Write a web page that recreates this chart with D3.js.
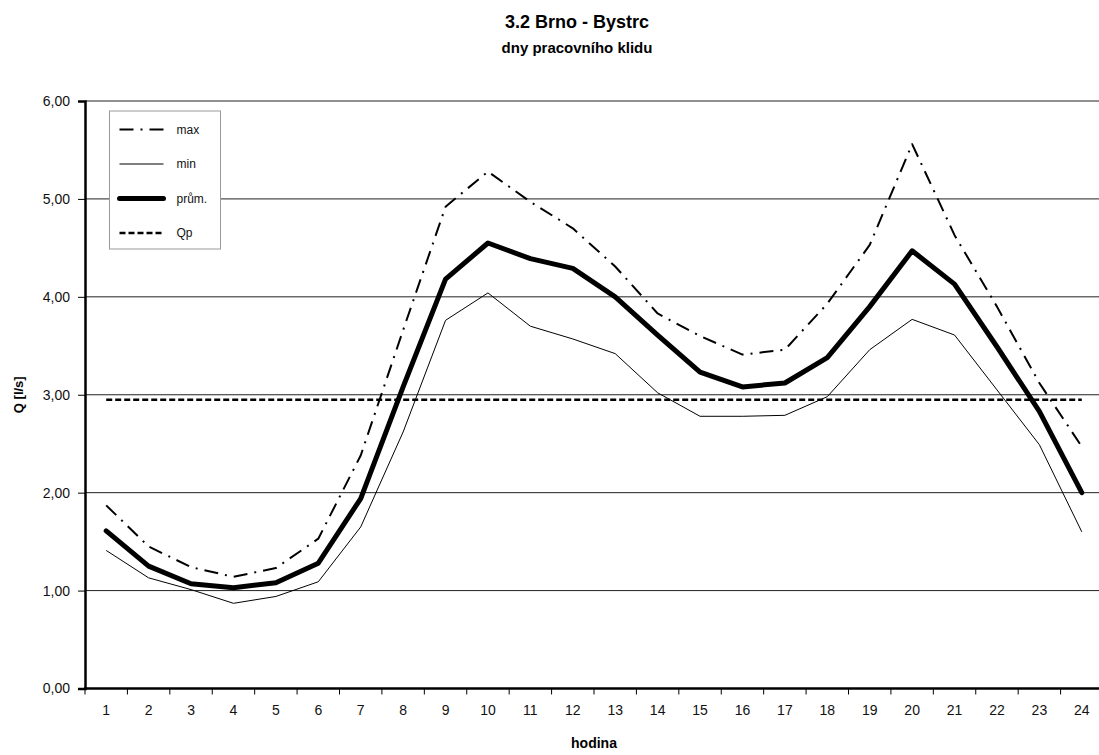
<!DOCTYPE html>
<html>
<head>
<meta charset="utf-8">
<script src="https://cdn.jsdelivr.net/npm/d3@7"></script>
<style>
  body { margin: 0; background: #fff; }
  svg, svg text { font-family: 'Liberation Sans', Arial, sans-serif; }
</style>
</head>
<body>
<div id="chart"></div>
<script>
const hours = d3.range(1, 25)
const maxQ = [1.87, 1.45, 1.24, 1.14, 1.23, 1.53, 2.38, 3.66, 4.92, 5.28, 4.97, 4.70,
  4.31, 3.83, 3.60, 3.41, 3.46, 3.93, 4.53, 5.56, 4.63, 3.90, 3.12, 2.47]
const minQ = [1.41, 1.13, 1.01, 0.87, 0.94, 1.09, 1.65, 2.62, 3.76, 4.04, 3.70, 3.57,
  3.42, 3.02, 2.78, 2.78, 2.79, 2.98, 3.46, 3.77, 3.61, 3.05, 2.49, 1.60]
const avgQ = [1.61, 1.25, 1.07, 1.03, 1.08, 1.28, 1.94, 3.08, 4.18, 4.55, 4.39, 4.29,
  4.00, 3.61, 3.23, 3.08, 3.12, 3.38, 3.90, 4.47, 4.13, 3.49, 2.83, 2.00]
const qp = 2.95
const yTicks = [0, 1, 2, 3, 4, 5, 6]

const W = 1099
const H = 755
const FONT = "'Liberation Sans', Arial, sans-serif"
// plot area runs a bit past the right edge, like the cropped original
const margin = { top: 101, left: 85, right: -4, bottom: 66.5 }

const svg = d3.select('#chart')
  .append('svg')
  .attr('width', W)
  .attr('height', H)
  .attr('font-family', FONT)

const x = d3.scaleBand()
  .domain(hours)
  .range([margin.left, W - margin.right])

const y = d3.scaleLinear()
  .domain([0, 6])
  .range([H - margin.bottom, margin.top])

const czLocale = d3.formatLocale({ decimal: ',', thousands: ' ', grouping: [3], currency: ['', ' Kč'] })
const fmt = czLocale.format('.2f')

// gridlines
svg.append('g')
  .selectAll('line')
  .data(yTicks.filter(d => d > 0))
  .join('line')
  .attr('x1', margin.left)
  .attr('x2', W - margin.right)
  .attr('y1', d => y(d))
  .attr('y2', d => y(d))
  .attr('stroke', '#222')
  .attr('stroke-width', 1)

// y axis
const yAxis = svg.append('g')
  .attr('transform', `translate(${margin.left},0)`)
  .call(d3.axisLeft(y).tickValues(yTicks).tickFormat(fmt).tickSize(7).tickPadding(8))
yAxis.attr('font-family', FONT).attr('font-size', 14)
yAxis.select('.domain').attr('stroke-width', 2.5)
yAxis.selectAll('.tick line').attr('stroke-width', 1)
yAxis.selectAll('text').attr('fill', '#111')

// x axis: labels centered in bands, ticks between categories
const xAxis = svg.append('g')
  .attr('transform', `translate(0,${y(0)})`)
  .call(d3.axisBottom(x).tickSize(0).tickPadding(17))
xAxis.attr('font-family', FONT).attr('font-size', 14)
xAxis.select('.domain').remove()
xAxis.selectAll('text').attr('fill', '#111')

svg.append('g')
  .selectAll('line')
  .data(hours)
  .join('line')
  .attr('x1', d => x(d))
  .attr('x2', d => x(d))
  .attr('y1', y(0))
  .attr('y2', y(0) + 6)
  .attr('stroke', '#000')

svg.append('line')
  .attr('x1', margin.left - 1)
  .attr('x2', W - margin.right)
  .attr('y1', y(0))
  .attr('y2', y(0))
  .attr('stroke', '#000')
  .attr('stroke-width', 2.5)

const cx = d => x(d) + x.bandwidth() / 2

const line = d3.line()
  .x((d, i) => cx(hours[i]))
  .y(d => y(d))

const series = [
  { name: 'max', values: maxQ, width: 2, dash: '14,7,2,7' },
  { name: 'min', values: minQ, width: 1, dash: null },
  { name: 'prům.', values: avgQ, width: 5, dash: null },
  { name: 'Qp', values: hours.map(() => qp), width: 2.5, dash: '6,3' }
]

svg.append('g')
  .selectAll('path')
  .data(series)
  .join('path')
  .attr('d', d => line(d.values))
  .attr('fill', 'none')
  .attr('stroke', '#000')
  .attr('stroke-width', d => d.width)
  .attr('stroke-dasharray', d => d.dash)
  .attr('stroke-linejoin', 'round')
  .attr('stroke-linecap', d => (d.width > 3 ? 'round' : 'butt'))

// legend
const legend = svg.append('g').attr('transform', 'translate(109.5,111)')
legend.append('rect')
  .attr('width', 111)
  .attr('height', 138)
  .attr('fill', '#fff')
  .attr('stroke', '#999')

const item = legend.selectAll('.item')
  .data(series)
  .join('g')
  .attr('class', 'item')
  .attr('transform', (d, i) => `translate(0,${18.5 + i * 34.5})`)

item.append('line')
  .attr('x1', 10)
  .attr('x2', 54)
  .attr('stroke', '#000')
  .attr('stroke-width', d => d.width)
  .attr('stroke-dasharray', d => d.dash)
  .attr('stroke-linecap', d => (d.width > 3 ? 'round' : 'butt'))

item.append('text')
  .attr('x', 67)
  .attr('dy', '0.35em')
  .attr('font-size', 12)
  .attr('fill', '#111')
  .text(d => d.name)

// titles
svg.append('text')
  .attr('x', 577)
  .attr('y', 28)
  .attr('text-anchor', 'middle')
  .attr('font-size', 18)
  .attr('font-weight', 'bold')
  .text('3.2 Brno - Bystrc')

svg.append('text')
  .attr('x', 577)
  .attr('y', 53)
  .attr('text-anchor', 'middle')
  .attr('font-size', 15)
  .attr('font-weight', 'bold')
  .text('dny pracovního klidu')

svg.append('text')
  .attr('x', (margin.left + W - margin.right) / 2)
  .attr('y', 748)
  .attr('text-anchor', 'middle')
  .attr('font-size', 14)
  .attr('font-weight', 'bold')
  .text('hodina')

svg.append('text')
  .attr('transform', `translate(23,${(y(0) + y(6)) / 2}) rotate(-90)`)
  .attr('text-anchor', 'middle')
  .attr('font-size', 13)
  .attr('font-weight', 'bold')
  .text('Q [l/s]')
</script>
</body>
</html>
